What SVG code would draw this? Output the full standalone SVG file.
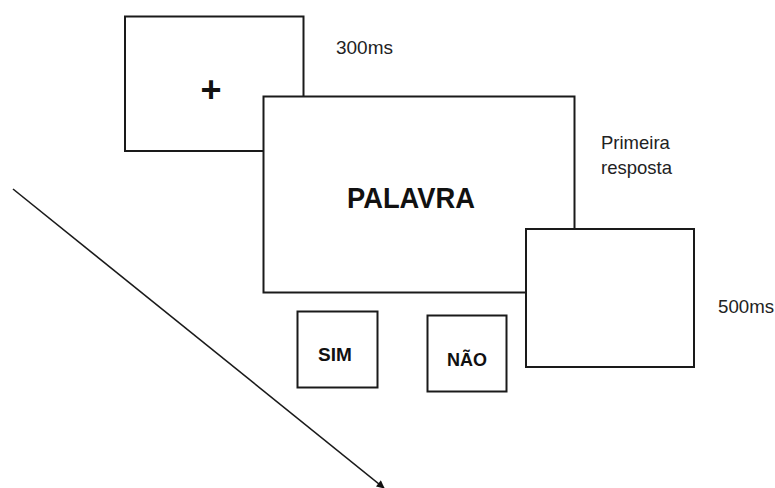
<svg xmlns="http://www.w3.org/2000/svg" width="775" height="488" viewBox="0 0 775 488">
<defs>
<style>
.box{fill:#fff;stroke:#1a1a1a;stroke-width:2}
.lbl{font-family:"Liberation Sans",Arial,sans-serif;font-size:18.5px;fill:#222}
.bold{font-family:"Liberation Sans",Arial,sans-serif;font-weight:bold;fill:#111;text-anchor:middle}
.conn{stroke:#1a1a1a;stroke-width:1.6;fill:none}
</style>
<marker id="ah" viewBox="0 0 10 10" refX="9" refY="5" markerWidth="9" markerHeight="8" markerUnits="userSpaceOnUse" orient="auto">
<path d="M0,0 L10,5 L0,10 z" fill="#111"/>
</marker>
</defs>
<rect width="775" height="488" fill="#fff"/>
<g id="fixation">
<rect class="box" x="125" y="16.5" width="178.5" height="134.5"/>
<text class="bold" x="211" y="102" font-size="36">+</text>
</g>
<g id="palavra">
<rect class="box" x="263.5" y="96.5" width="311" height="196"/>
<text class="bold" x="411" y="208" font-size="29" textLength="128" lengthAdjust="spacingAndGlyphs">PALAVRA</text>
</g>
<g id="blank">
<rect class="box" x="526" y="229" width="168" height="138"/>
</g>
<g id="sim">
<rect class="box" x="297.5" y="311.5" width="80" height="76"/>
<text class="bold" x="335" y="361" font-size="19">SIM</text>
</g>
<g id="nao">
<rect class="box" x="427.5" y="315.5" width="79" height="76"/>
<text class="bold" x="467" y="366" font-size="18">NÃO</text>
</g>
<g id="labels">
<text class="lbl" x="336" y="54" textLength="57" lengthAdjust="spacingAndGlyphs">300ms</text>
<text class="lbl" x="601" y="149">Primeira</text>
<text class="lbl" x="601" y="174">resposta</text>
<text class="lbl" x="718" y="313" textLength="56" lengthAdjust="spacingAndGlyphs">500ms</text>
</g>
<g id="connectors">
<line class="conn" x1="13" y1="189" x2="384" y2="488" marker-end="url(#ah)"/>
</g>
</svg>
